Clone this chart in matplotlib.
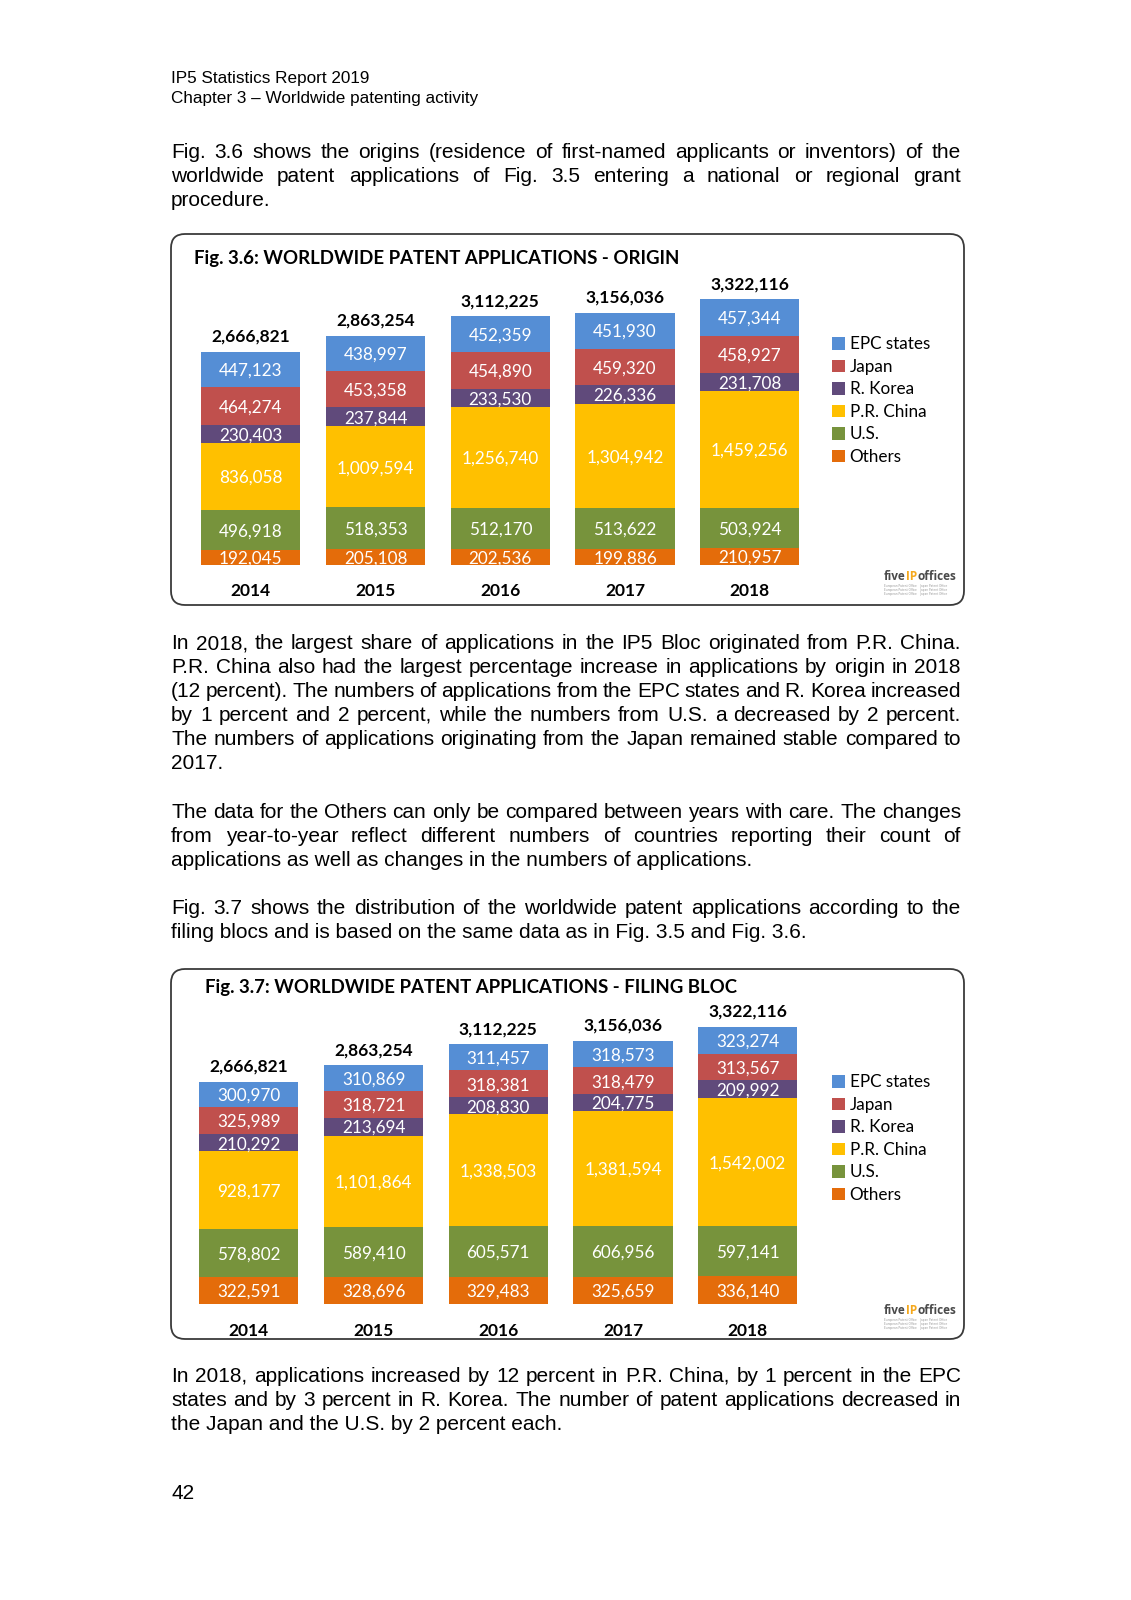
import matplotlib
matplotlib.use('Agg')
import matplotlib.pyplot as plt
from matplotlib.patches import FancyBboxPatch

# dados dos gráficos
years = ['2014', '2015', '2016', '2017', '2018']
categories = ['EPC states', 'Japan', 'R. Korea', 'P.R. China', 'U.S.', 'Others']
colors = ['#558ED5', '#C0504D', '#604A7B', '#FFC000', '#77933C', '#E46C0A']

# Fig. 3.6 - origem
epc_o = [447123, 438997, 452359, 451930, 457344]
jp_o = [464274, 453358, 454890, 459320, 458927]
kr_o = [230403, 237844, 233530, 226336, 231708]
cn_o = [836058, 1009594, 1256740, 1304942, 1459256]
us_o = [496918, 518353, 512170, 513622, 503924]
ot_o = [192045, 205108, 202536, 199886, 210957]

# Fig. 3.7 - bloco de depósito
epc_f = [300970, 310869, 311457, 318573, 323274]
jp_f = [325989, 318721, 318381, 318479, 313567]
kr_f = [210292, 213694, 208830, 204775, 209992]
cn_f = [928177, 1101864, 1338503, 1381594, 1542002]
us_f = [578802, 589410, 605571, 606956, 597141]
ot_f = [322591, 328696, 329483, 325659, 336140]

header = ['IP5 Statistics Report 2019', 'Chapter 3 \u2013 Worldwide patenting activity']
par1 = ['Fig. 3.6 shows the origins (residence of first-named applicants or inventors) of the',
        'worldwide patent applications of Fig. 3.5 entering a national or regional grant',
        'procedure.']
par2 = ['In 2018, the largest share of applications in the IP5 Bloc originated from P.R. China.',
        'P.R. China also had the largest percentage increase in applications by origin in 2018',
        '(12 percent). The numbers of applications from the EPC states and R. Korea increased',
        'by 1 percent and 2 percent, while the numbers from U.S. a decreased by 2 percent.',
        'The numbers of applications originating from the Japan remained stable compared to',
        '2017.']
par3 = ['The data for the Others can only be compared between years with care. The changes',
        'from year-to-year reflect different numbers of countries reporting their count of',
        'applications as well as changes in the numbers of applications.']
par4 = ['Fig. 3.7 shows the distribution of the worldwide patent applications according to the',
        'filing blocs and is based on the same data as in Fig. 3.5 and Fig. 3.6.']
par5 = ['In 2018, applications increased by 12 percent in P.R. China, by 1 percent in the EPC',
        'states and by 3 percent in R. Korea. The number of patent applications decreased in',
        'the Japan and the U.S. by 2 percent each.']

W, H = 1131, 1600
LEFT, RIGHT = 171, 961
BODY = 'Liberation Sans'
CHART = 'Lato'
BODY_SIZE = 15.0

fig = plt.figure(figsize=(W / 100, H / 100), dpi=100)
page = fig.add_axes([0, 0, 1, 1])
page.set_xlim(0, W)
page.set_ylim(H, 0)
page.axis('off')
renderer = fig.canvas.get_renderer()


def paragraph(lines, y0, step=24.0, size=BODY_SIZE):
    # texto justificado, ultima linha alinhada a esquerda
    for i, line in enumerate(lines):
        y = y0 + i * step
        if i == len(lines) - 1:
            page.text(LEFT, y, line, fontsize=size, family=BODY, va='baseline')
            continue
        words = line.split()
        texts = [page.text(0, y, w, fontsize=size, family=BODY, va='baseline') for w in words]
        widths = [t.get_window_extent(renderer).width for t in texts]
        gap = (RIGHT - LEFT - sum(widths)) / (len(words) - 1)
        x = LEFT
        for t, w in zip(texts, widths):
            t.set_x(x)
            x += w + gap


page.text(LEFT, 83, header[0], fontsize=12.3, family=BODY, va='baseline')
page.text(LEFT, 103, header[1], fontsize=12.3, family=BODY, va='baseline')
paragraph(par1, 157.5)
paragraph(par2, 649)
paragraph(par3, 818)
paragraph(par4, 914)
paragraph(par5, 1382)
page.text(LEFT, 1499, '42', fontsize=BODY_SIZE, family=BODY, va='baseline')


def logo(x, y):
    parts = [('five', '#4a4a4a'), ('IP', '#F5A81C'), ('offices', '#4a4a4a')]
    for txt, col in parts:
        t = page.text(x, y, txt, fontsize=8.5, fontweight='bold', color=col,
                      family='Open Sans', va='baseline')
        x += t.get_window_extent(renderer).width
    for k in range(3):
        page.text(884, y + 6 + k * 3.5, 'European Patent Office    Japan Patent Office',
                  fontsize=2.1, color='#9a9a9a', family='DejaVu Sans', va='center')


def chart(box_top, box_bottom, first_x, base_y, px_per_m, title, title_x, title_y,
          leg_top, series):
    box_l, box_r = 171, 964
    spacing = 124.7
    page.add_patch(FancyBboxPatch((box_l, box_top), box_r - box_l, box_bottom - box_top,
                                  boxstyle='round,pad=0,rounding_size=14',
                                  fill=False, edgecolor='#3a3a3a', lw=1.3))
    page.text(title_x, title_y, title, fontsize=13.4, family=CHART,
              fontweight='bold', va='center')

    ax = fig.add_axes([box_l / W, 1 - box_bottom / H, (box_r - box_l) / W,
                       (box_bottom - box_top) / H])
    ax.axis('off')
    x0 = -(first_x - box_l) / spacing
    ax.set_xlim(x0, x0 + (box_r - box_l) / spacing)
    y_low = -(box_bottom - base_y) / px_per_m * 1e6
    ax.set_ylim(y_low, y_low + (box_bottom - box_top) / px_per_m * 1e6)

    pos = list(range(len(years)))
    bottom = [0] * len(years)
    handles = {}
    # empilhamento de baixo para cima: Others ... EPC
    for name, vals, col in reversed(list(zip(categories, series, colors))):
        b = ax.bar(pos, vals, 0.795, bottom=bottom, color=col, linewidth=0)
        handles[name] = b
        for p, v, bt in zip(pos, vals, bottom):
            ax.text(p, bt + v / 2, f'{v:,}', ha='center', va='center_baseline',
                    color='white', fontsize=12.3, family=CHART)
        bottom = [bt + v for bt, v in zip(bottom, vals)]

    for p, tot in zip(pos, bottom):
        ax.annotate(f'{tot:,}', (p, tot), xytext=(0, 5), textcoords='offset points',
                    ha='center', va='bottom', fontsize=12.5, fontweight='bold',
                    family=CHART)
    for p, yr in zip(pos, years):
        ax.annotate(yr, (p, 0), xytext=(0, -18), textcoords='offset points',
                    ha='center', va='center_baseline', fontsize=12.5,
                    fontweight='bold', family=CHART)

    fig.legend([handles[c] for c in categories], categories, loc='upper left',
               bbox_to_anchor=(832 / W, 1 - leg_top / H), frameon=False,
               handlelength=0.75, handleheight=0.75, handletextpad=0.28,
               labelspacing=0.38, borderpad=0, borderaxespad=0,
               prop={'family': CHART, 'size': 12.3})
    logo(884, box_bottom - 24.5)


chart(234, 605, 250.9, 565, 80.0, 'Fig. 3.6: WORLDWIDE PATENT APPLICATIONS - ORIGIN',
      194, 258.6, 336.4, [epc_o, jp_o, kr_o, cn_o, us_o, ot_o])
chart(969, 1339, 248.9, 1304, 83.4, 'Fig. 3.7: WORLDWIDE PATENT APPLICATIONS - FILING BLOC',
      205.4, 987.3, 1074.3, [epc_f, jp_f, kr_f, cn_f, us_f, ot_f])

fig.savefig('out.png', dpi=100)
